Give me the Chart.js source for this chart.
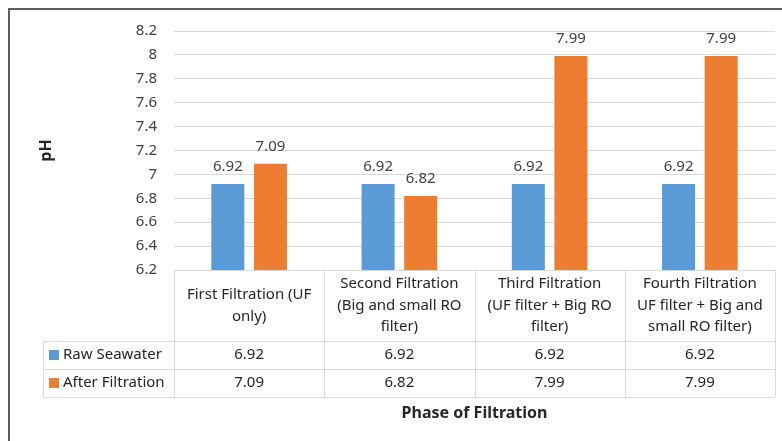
<!DOCTYPE html>
<html>
<head>
<meta charset="utf-8">
<script src="https://cdn.jsdelivr.net/npm/chart.js@4"></script>
<style>
  html, body { margin: 0; padding: 0; background: #fff; }
  #wrap { width: 782px; height: 441px; }
</style>
</head>
<body>
<div id="wrap"><canvas id="chart" width="782" height="441"></canvas></div>
<script>
"use strict";

// values
var categories = [
  ['First Filtration (UF', 'only)'],
  ['Second Filtration', '(Big and small RO', 'filter)'],
  ['Third Filtration', '(UF filter + Big RO', 'filter)'],
  ['Fourth Filtration', 'UF filter + Big and', 'small RO filter)']
];
var seriesNames = ['Raw Seawater', 'After Filtration'];
var rawSeawater = [6.92, 6.92, 6.92, 6.92];
var afterFiltration = [7.09, 6.82, 7.99, 7.99];
var seriesColors = ['#5B9BD5', '#ED7D31'];

var FONT = "'Noto Sans', sans-serif";
var TEXT = '#404040';
var LINE = '#D9D9D9';

// draws the value labels, the data table, the x title and the frame
var tablePlugin = {
  id: 'excelTable',
  afterDatasetsDraw: function(chart) {
    var ctx = chart.ctx;
    ctx.save();
    ctx.font = '15px ' + FONT;
    ctx.fillStyle = TEXT;
    ctx.textAlign = 'center';
    ctx.textBaseline = 'middle';
    chart.data.datasets.forEach(function(ds, di) {
      chart.getDatasetMeta(di).data.forEach(function(bar, i) {
        ctx.fillText(ds.data[i].toFixed(2), bar.x, bar.y - 17);
      });
    });
    ctx.restore();
  },
  afterDraw: function(chart) {
    var ctx = chart.ctx;
    var area = chart.chartArea;
    var x = chart.scales.x;
    var catW = (area.right - area.left) / categories.length;
    var top = area.bottom;
    var headBottom = top + 71;
    var rowH = 28;
    var legendLeft = 43;
    var bottom = headBottom + rowH * seriesNames.length;

    ctx.save();
    ctx.strokeStyle = LINE;
    ctx.lineWidth = 1;
    ctx.beginPath();
    ctx.moveTo(area.left, top + 0.5);
    ctx.lineTo(area.right, top + 0.5);
    for (var r = 0; r <= seriesNames.length; r++) {
      var yy = Math.round(headBottom + r * rowH) + 0.5;
      ctx.moveTo(legendLeft, yy);
      ctx.lineTo(area.right, yy);
    }
    for (var c = 0; c <= categories.length; c++) {
      var xx = Math.round(area.left + c * catW) + 0.5;
      ctx.moveTo(xx, top);
      ctx.lineTo(xx, bottom);
    }
    ctx.moveTo(legendLeft + 0.5, headBottom);
    ctx.lineTo(legendLeft + 0.5, bottom);
    ctx.stroke();

    // header cells
    ctx.fillStyle = '#262626';
    ctx.font = '15px ' + FONT;
    ctx.textAlign = 'center';
    ctx.textBaseline = 'middle';
    var lh = 21.7;
    var headMid = (top + headBottom) / 2;
    categories.forEach(function(lines, i) {
      var cx = x.getPixelForValue(i);
      var y0 = headMid - (lines.length - 1) * lh / 2;
      lines.forEach(function(t, k) {
        ctx.fillText(t, cx, y0 + k * lh);
      });
    });

    // data rows
    var series = [rawSeawater, afterFiltration];
    series.forEach(function(vals, r) {
      var cy = headBottom + r * rowH + rowH / 2;
      ctx.fillStyle = seriesColors[r];
      ctx.fillRect(49, cy - 5, 10, 10);
      ctx.fillStyle = '#262626';
      ctx.textAlign = 'left';
      ctx.fillText(seriesNames[r], 63, cy);
      ctx.textAlign = 'center';
      vals.forEach(function(v, i) {
        ctx.fillText(v.toFixed(2), x.getPixelForValue(i), cy);
      });
    });

    // x axis title
    ctx.font = 'bold 16px ' + FONT;
    ctx.fillStyle = '#262626';
    ctx.fillText('Phase of Filtration', (area.left + area.right) / 2, bottom + 16);

    // chart frame (left and top edges visible)
    ctx.strokeStyle = '#5f5f5f';
    ctx.lineWidth = 2;
    ctx.beginPath();
    ctx.moveTo(9, chart.height);
    ctx.lineTo(9, 9);
    ctx.lineTo(chart.width, 9);
    ctx.stroke();
    ctx.restore();
  }
};

new Chart(document.getElementById('chart'), {
  type: 'bar',
  data: {
    labels: categories,
    datasets: [
      { label: seriesNames[0], data: rawSeawater, backgroundColor: seriesColors[0] },
      { label: seriesNames[1], data: afterFiltration, backgroundColor: seriesColors[1] }
    ]
  },
  options: {
    responsive: false,
    animation: false,
    events: [],
    layout: { padding: { left: 10, top: 31, right: 7, bottom: 171 } },
    datasets: {
      bar: { categoryPercentage: 0.567, barPercentage: 0.775 }
    },
    plugins: {
      legend: { display: false },
      tooltip: { enabled: false }
    },
    scales: {
      x: { display: false },
      y: {
        min: 6.2,
        max: 8.2,
        afterFit: function(scale) { scale.width = 164; },
        border: { display: false },
        grid: { color: LINE, drawTicks: false },
        ticks: {
          stepSize: 0.2,
          padding: 17,
          color: TEXT,
          font: { family: FONT, size: 15 },
          callback: function(v) { return String(+v.toFixed(1)); }
        },
        title: {
          display: true,
          text: 'pH',
          color: '#262626',
          padding: { top: 27 },
          font: { family: FONT, size: 16, weight: 'bold' }
        }
      }
    }
  },
  plugins: [tablePlugin]
});
</script>
</body>
</html>
